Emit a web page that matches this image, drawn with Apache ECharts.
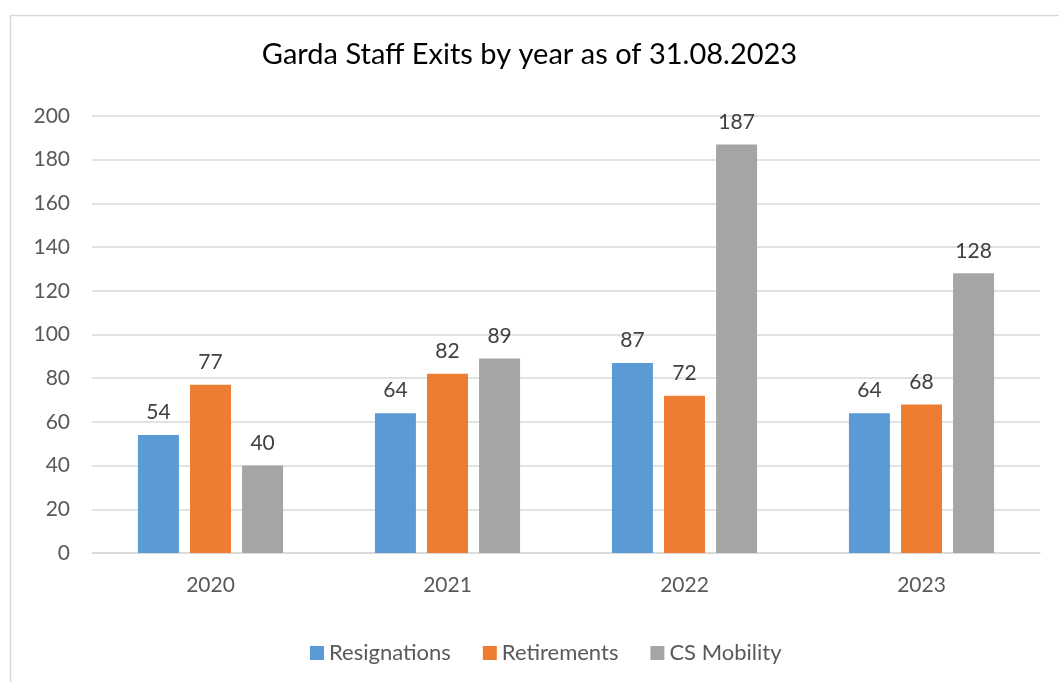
<!DOCTYPE html>
<html>
<head>
<meta charset="utf-8">
<script src="https://cdn.jsdelivr.net/npm/echarts@6/dist/echarts.min.js"></script>
<style>
  html, body { margin: 0; padding: 0; background: #fff; }
  #chart { width: 1059px; height: 682px; }
</style>
</head>
<body>
<div id="chart"></div>
<script>
const years = ["2020", "2021", "2022", "2023"];
const resignations = [54, 64, 87, 64];
const retirements = [77, 82, 72, 68];
const csMobility = [40, 89, 187, 128];

const font = "Lato, 'Open Sans', sans-serif";
const chart = echarts.init(document.getElementById("chart"));

// shared look for each bar series
const barSeries = (name, data, color) => ({
  name,
  type: "bar",
  data,
  barWidth: 41,
  barGap: "27%",
  itemStyle: { color },
  label: {
    show: true,
    position: "top",
    distance: 12,
    color: "#404040",
    fontSize: 21,
    fontFamily: font,
  },
});

chart.setOption({
  animation: false,
  title: {
    text: "Garda Staff Exits by year as of 31.08.2023",
    left: "center",
    top: 35,
    textStyle: { color: "#000", fontSize: 29, fontWeight: "normal", fontFamily: font },
  },
  graphic: [
    {
      type: "rect",
      left: 8,
      top: 13,
      shape: { width: 1100, height: 720 },
      style: { fill: "none", stroke: "#d9d9d9", lineWidth: 1.5 },
      silent: true,
    },
  ],
  legend: {
    bottom: 13,
    left: 305,
    itemWidth: 14,
    itemHeight: 14,
    itemGap: 32,
    icon: "rect",
    textStyle: { color: "#595959", fontSize: 22, fontFamily: font },
    data: ["Resignations", "Retirements", "CS Mobility"],
  },
  grid: { left: 92, right: 19, top: 116, bottom: 129 },
  xAxis: {
    type: "category",
    data: years,
    axisTick: { show: false },
    axisLine: { lineStyle: { color: "#d9d9d9", width: 1.5 } },
    axisLabel: { color: "#595959", fontSize: 21, fontFamily: font, margin: 22 },
  },
  yAxis: {
    type: "value",
    min: 0,
    max: 200,
    interval: 20,
    axisLine: { show: false },
    axisTick: { show: false },
    splitLine: { lineStyle: { color: "#d9d9d9", width: 1.5 } },
    axisLabel: { color: "#595959", fontSize: 21, fontFamily: font, margin: 22 },
  },
  series: [
    barSeries("Resignations", resignations, "#5b9bd5"),
    barSeries("Retirements", retirements, "#ed7d31"),
    barSeries("CS Mobility", csMobility, "#a5a5a5"),
  ],
});
</script>
</body>
</html>
